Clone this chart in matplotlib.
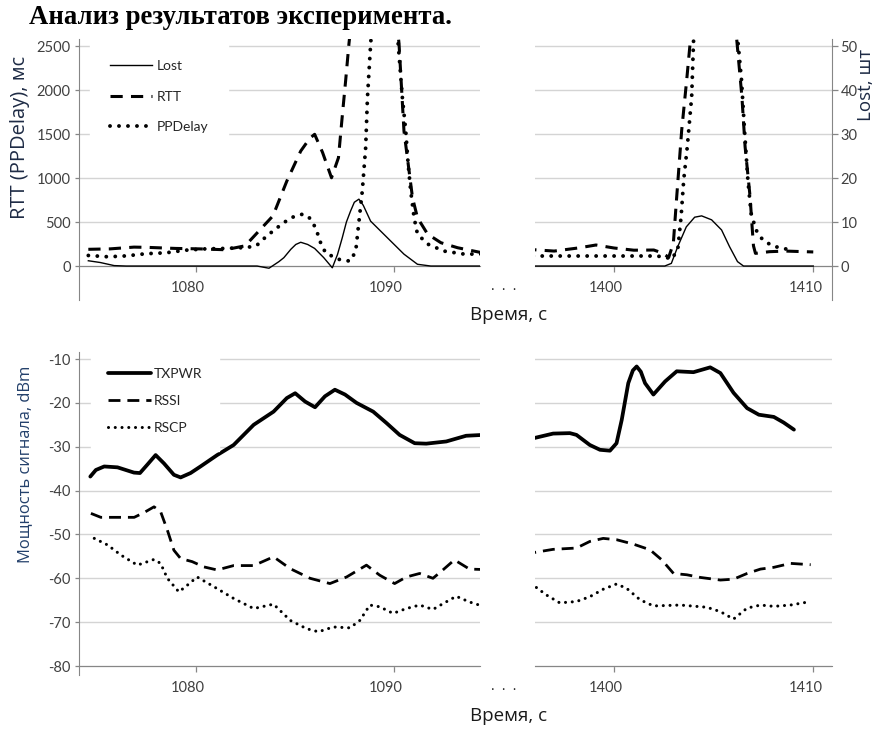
import matplotlib
matplotlib.use("Agg")
import matplotlib.pyplot as plt
from matplotlib.lines import Line2D
from matplotlib.transforms import ScaledTranslation

plt.rcParams['font.family'] = ['Lato', 'Open Sans', 'DejaVu Sans']
plt.rcParams['axes.unicode_minus'] = False

# ---------------- data: top panel, left segment ----------------
lost_t1 = [1074.6, 1075.2, 1075.9, 1076.5, 1083.1, 1083.7, 1084.2, 1084.45, 1084.8, 1085.05, 1085.3,
           1085.65, 1086.0, 1086.46, 1086.89, 1087.15, 1087.39, 1087.6, 1087.81, 1088.0, 1088.23,
           1088.45, 1088.82, 1089.67, 1090.5, 1091.18, 1091.85, 1094.5]
lost_v1 = [1.2, 0.8, 0.1, 0.0, 0.0, -0.5, 1.0, 1.9, 3.8, 4.9, 5.4,
           4.9, 4.0, 1.9, -0.4, 2.6, 6.4, 10.0, 12.5, 14.5, 15.2,
           13.8, 10.2, 6.4, 2.7, 0.4, 0.0, 0.0]

rtt_t1 = [1074.6, 1075.7, 1076.9, 1077.6, 1078.4, 1079.0, 1080.2, 1081.5, 1082.5, 1083.2, 1083.9,
          1084.6, 1085.3, 1085.75, 1086.0, 1086.4, 1086.85, 1087.2, 1087.4, 1087.56, 1087.73, 1089.0,
          1090.25, 1090.5, 1090.93, 1091.18, 1091.69, 1092.36, 1093.2, 1094.5]
rtt_v1 = [190, 195, 215, 212, 205, 200, 195, 185, 230, 400, 570,
          966, 1307, 1450, 1497, 1290, 1003, 1231, 1724, 2102, 2530, 5200,
          2530, 1534, 776, 549, 363, 265, 208, 148]

ppd_t1 = [1074.6, 1075.6, 1076.5, 1077.5, 1078.5, 1079.5, 1080.5, 1081.5, 1082.5, 1083.05, 1083.4,
          1083.8, 1084.25, 1084.8, 1085.4, 1085.7, 1086.05, 1086.3, 1086.55, 1086.9, 1087.15,
          1087.5, 1087.8, 1088.07, 1088.18, 1088.4, 1088.57, 1088.66, 1088.82, 1089.5, 1090.2,
          1090.42, 1090.59, 1090.71, 1090.84, 1091.01, 1091.18, 1091.69, 1092.51, 1093.52, 1094.5]
ppd_v1 = [120, 105, 115, 140, 150, 180, 195, 200, 210, 227, 303,
          379, 460, 549, 590, 560, 435, 265, 150, 110, 80,
          62, 57, 170, 398, 852, 1345, 1912, 2520, 4500, 2550,
          1912, 1534, 1159, 852, 549, 363, 250, 170, 136, 136]

# ---------------- data: top panel, right segment ----------------
lost_t2 = [1395.5, 1402.55, 1402.88, 1403.2, 1403.63, 1404.05, 1404.4, 1404.9, 1405.4, 1405.8,
           1406.2, 1406.5, 1410.0]
lost_v2 = [0.0, 0.0, 0.6, 4.4, 8.9, 11.1, 11.4, 10.5, 8.2, 4.4,
           1.0, 0.0, 0.0]

rtt_t2 = [1395.5, 1396.0, 1397.0, 1398.2, 1399.1, 1400.0, 1401.0, 1402.0, 1402.4, 1402.75, 1402.98,
          1403.15, 1403.4, 1403.65, 1403.85, 1405.0, 1406.15, 1406.42, 1406.58, 1406.83, 1406.92,
          1407.0, 1407.1, 1407.8, 1408.6, 1410.0]
rtt_v2 = [190, 185, 170, 205, 239, 205, 180, 182, 150, 100, 258,
          788, 1545, 2114, 2600, 5000, 2600, 1924, 1356, 788, 485,
          230, 144, 163, 170, 160]

ppd_t2 = [1395.5, 1396.0, 1397.0, 1398.0, 1399.0, 1400.0, 1401.0, 1402.0, 1402.55, 1402.88, 1403.2,
          1403.37, 1403.5, 1403.68, 1403.9, 1404.0, 1405.0, 1406.2, 1406.4, 1406.55, 1406.72,
          1406.88, 1407.13, 1407.47, 1407.97, 1408.47, 1408.9]
ppd_v2 = [114, 114, 114, 114, 114, 114, 114, 114, 106, 76, 182,
          561, 977, 1356, 1924, 2600, 5000, 2600, 2114, 1545, 977,
          599, 409, 295, 227, 201, 182]

# ---------------- data: bottom panel, left segment ----------------
tx_t1 = [1074.7, 1074.98, 1075.4, 1076.07, 1076.9, 1077.2, 1077.57, 1077.99, 1078.41, 1078.91,
         1079.25, 1079.75, 1080.25, 1081.09, 1081.92, 1082.93, 1083.93, 1084.6, 1085.02, 1085.52,
         1086.02, 1086.52, 1087.02, 1087.53, 1088.11, 1088.95, 1089.62, 1090.28, 1091.04, 1091.62,
         1092.63, 1093.63, 1094.5]
tx_v1 = [-36.8, -35.3, -34.5, -34.7, -35.9, -36.0, -34.1, -31.9, -33.8, -36.4,
         -37.0, -36.0, -34.5, -31.9, -29.6, -25.0, -22.0, -18.9, -17.8, -19.7,
         -21.0, -18.5, -17.0, -18.1, -20.0, -22.0, -24.6, -27.3, -29.2, -29.3,
         -28.8, -27.5, -27.3]

rssi_t1 = [1074.73, 1075.23, 1076.07, 1076.91, 1077.41, 1077.91, 1078.24, 1078.58, 1078.91, 1079.25,
           1079.83, 1080.42, 1081.09, 1081.92, 1082.93, 1083.93, 1084.77, 1085.77, 1086.77, 1087.61,
           1088.61, 1089.28, 1090.03, 1090.62, 1091.29, 1091.96, 1092.46, 1093.04, 1093.8, 1094.5]
rssi_v1 = [-45.2, -46.1, -46.1, -46.1, -45.0, -43.7, -44.8, -49.0, -53.6, -55.5,
           -56.2, -57.4, -58.1, -57.1, -57.1, -55.1, -57.8, -60.0, -61.2, -59.7,
           -57.0, -59.3, -61.2, -59.7, -58.9, -60.0, -58.1, -55.8, -57.9, -58.0]

rscp_t1 = [1074.9, 1075.57, 1076.24, 1077.07, 1077.91, 1078.24, 1078.58, 1079.16, 1079.58, 1080.08,
           1080.92, 1081.92, 1082.93, 1083.93, 1084.77, 1085.6, 1086.19, 1086.94, 1087.78, 1088.28,
           1088.78, 1089.28, 1089.95, 1090.62, 1091.29, 1091.96, 1092.46, 1093.13, 1093.8, 1094.5]
rscp_v1 = [-50.9, -52.4, -54.7, -57.0, -55.7, -56.6, -60.0, -63.1, -61.6, -59.7,
           -61.9, -64.6, -66.9, -65.9, -69.6, -71.5, -72.2, -71.1, -71.3, -69.6,
           -66.1, -66.5, -68.0, -66.9, -66.1, -67.1, -65.8, -64.1, -65.4, -66.4]

# ---------------- data: bottom panel, right segment ----------------
tx_t2 = [1395.5, 1396.02, 1396.95, 1397.79, 1398.12, 1398.79, 1399.3, 1399.8, 1400.13, 1400.39,
         1400.72, 1400.95, 1401.14, 1401.35, 1401.56, 1401.98, 1402.57, 1403.15, 1403.99, 1404.83,
         1405.34, 1406.0, 1406.68, 1407.27, 1408.02, 1408.52, 1409.03]
tx_v2 = [-28.5, -28.0, -27.0, -26.9, -27.3, -29.6, -30.7, -30.9, -29.2, -23.9,
         -15.5, -12.6, -11.7, -12.9, -15.5, -18.1, -15.1, -12.8, -13.0, -11.9,
         -13.2, -17.7, -21.2, -22.7, -23.2, -24.5, -26.1]

rssi_t2 = [1395.5, 1396.02, 1396.95, 1398.12, 1398.79, 1399.46, 1400.13, 1400.97, 1401.81, 1402.4,
           1402.99, 1403.66, 1404.33, 1405.34, 1406.0, 1406.68, 1407.35, 1408.02, 1408.86, 1409.87]
rssi_v2 = [-54.4, -54.1, -53.4, -53.1, -51.6, -50.9, -51.2, -52.2, -53.5, -55.8,
           -58.9, -59.2, -59.8, -60.4, -60.2, -58.9, -57.9, -57.5, -56.6, -56.9]

rscp_t2 = [1396.11, 1396.61, 1397.28, 1398.12, 1398.79, 1399.46, 1400.13, 1400.64, 1401.31, 1401.98,
           1403.32, 1404.66, 1405.34, 1406.0, 1406.68, 1407.35, 1408.02, 1408.86, 1409.87]
rscp_v2 = [-62.1, -63.8, -65.6, -65.3, -64.2, -62.5, -61.3, -62.3, -64.9, -66.3,
           -66.1, -66.6, -67.6, -69.3, -66.8, -66.1, -66.4, -66.1, -65.3]

top_yticks = [0, 500, 1000, 1500, 2000, 2500]
lost_yticks = [0, 10, 20, 30, 40, 50]
bot_yticks = [-80, -70, -60, -50, -40, -30, -20, -10]
xticks_left = [1080, 1090]
xticks_right = [1400, 1410]

# ---------------- styles ----------------
W, H = 877, 729
AX = '#868686'
GRID = '#d4d4d4'
TXT = '#404040'
LAB = '#1e2b45'
TICKFS = 10.5

lost_style = dict(color='black', lw=1.0)
rtt_style = dict(color='black', lw=2.2, linestyle=(0, (4.0, 2.7)), dash_capstyle='butt')
ppd_style = dict(color='black', lw=2.8, linestyle=(0, (0.01, 2.3)), dash_capstyle='round')
tx_style = dict(color='black', lw=2.7, solid_capstyle='round', solid_joinstyle='round')
rssi_style = dict(color='black', lw=2.0, linestyle=(0, (4.3, 2.5)), dash_capstyle='butt')
rscp_style = dict(color='black', lw=2.2, linestyle=(0, (0.01, 2.2)), dash_capstyle='round')

fig = plt.figure(figsize=(W / 100, H / 100), dpi=100)


def rect(x0, y0, x1, y1):
    return [x0 / W, 1 - y1 / H, (x1 - x0) / W, (y1 - y0) / H]


def shift_labels(ax):
    off = ScaledTranslation(-8 / 100, 0, fig.dpi_scale_trans)
    for tick in ax.xaxis.get_major_ticks():
        tick.label1.set_transform(tick.label1.get_transform() + off)


def base_axes(r, xlim, ylim, xticks, yticks, base, left_spine):
    ax = fig.add_axes(rect(*r))
    ax.set_xlim(*xlim)
    ax.set_ylim(*ylim)
    ax.set_xticks(xticks)
    ax.set_yticks(yticks)
    ax.patch.set_alpha(0)
    for s in ['top', 'right']:
        ax.spines[s].set_visible(False)
    ax.spines['left'].set_visible(left_spine)
    ax.spines['left'].set_color(AX)
    ax.spines['bottom'].set_color(AX)
    ax.spines['bottom'].set_position(('data', base))
    ax.grid(axis='y', color=GRID, lw=1.0)
    ax.set_axisbelow(True)
    ax.tick_params(axis='x', direction='out', length=4, width=0.9, color=AX,
                   pad=7, labelsize=TICKFS, labelcolor=TXT)
    if left_spine:
        ax.tick_params(axis='y', direction='out', length=3, width=0.9, color=AX,
                       pad=3, labelsize=TICKFS, labelcolor=TXT)
    else:
        ax.tick_params(axis='y', length=0, labelleft=False)
    shift_labels(ax)
    return ax


TOP_Y = (-386, 2580)
BOT_Y = (-82.05, -8.4)
XL = (1074.13, 1094.33)
XR = (1396.04, 1410.94)

# ---------------- top left ----------------
ax1 = base_axes((79, 39, 480, 300), XL, TOP_Y, xticks_left, top_yticks, 0, True)
ax1.plot(rtt_t1, rtt_v1, **rtt_style)
ax1.plot(ppd_t1, ppd_v1, **ppd_style)
ax1t = ax1.twinx()
ax1t.set_ylim(TOP_Y[0] / 50, TOP_Y[1] / 50)
for s in ax1t.spines.values():
    s.set_visible(False)
ax1t.set_yticks([])
ax1t.plot(lost_t1, lost_v1, **lost_style)

handles = [Line2D([], [], **lost_style), Line2D([], [], **rtt_style), Line2D([], [], **ppd_style)]
leg = ax1t.legend(handles, ['Lost', 'RTT', 'PPDelay'], loc='upper left',
                  bbox_to_anchor=(90 / W, 1 - 40 / H), bbox_transform=fig.transFigure,
                  frameon=True, fancybox=False, framealpha=1, edgecolor='white',
                  handlelength=3.0, handletextpad=0.35, labelspacing=1.33,
                  borderpad=1.45, borderaxespad=0, prop=dict(size=10))
for t in leg.get_texts():
    t.set_color('#262626')

# ---------------- top right ----------------
ax2 = base_axes((535, 39, 832, 300), XR, TOP_Y, xticks_right, top_yticks, 0, False)
ax2.plot(rtt_t2, rtt_v2, **rtt_style)
ax2.plot(ppd_t2, ppd_v2, **ppd_style)
ax2t = ax2.twinx()
ax2t.set_ylim(TOP_Y[0] / 50, TOP_Y[1] / 50)
ax2t.set_yticks(lost_yticks)
for s in ['top', 'left', 'bottom']:
    ax2t.spines[s].set_visible(False)
ax2t.spines['right'].set_color(AX)
ax2t.tick_params(axis='y', direction='out', length=4, width=0.9, color=AX,
                 pad=2, labelsize=TICKFS, labelcolor=TXT)
ax2t.plot(lost_t2, lost_v2, **lost_style)

# ---------------- bottom left ----------------
ax3 = base_axes((79, 352, 480, 675), XL, BOT_Y, xticks_left, bot_yticks, -80, True)
ax3.plot(tx_t1, tx_v1, **tx_style)
ax3.plot(rssi_t1, rssi_v1, **rssi_style)
ax3.plot(rscp_t1, rscp_v1, **rscp_style)
handles_b = [Line2D([], [], **tx_style), Line2D([], [], **rssi_style), Line2D([], [], **rscp_style)]
leg2 = ax3.legend(handles_b, ['TXPWR', 'RSSI', 'RSCP'], loc='upper left',
                  bbox_to_anchor=(91 / W, 1 - 351 / H), bbox_transform=fig.transFigure,
                  frameon=True, fancybox=False, framealpha=1, edgecolor='white',
                  handlelength=3.1, handletextpad=0.2, labelspacing=1.1,
                  borderpad=1.2, borderaxespad=0, prop=dict(size=10))
for t in leg2.get_texts():
    t.set_color('#262626')

# ---------------- bottom right ----------------
ax4 = base_axes((535, 352, 832, 675), XR, BOT_Y, xticks_right, bot_yticks, -80, False)
ax4.plot(tx_t2, tx_v2, **tx_style)
ax4.plot(rssi_t2, rssi_v2, **rssi_style)
ax4.plot(rscp_t2, rscp_v2, **rscp_style)

# ---------------- texts ----------------
def fx(px):
    return px / W


def fy(py):
    return 1 - py / H


fig.text(fx(29), fy(18), 'Анализ результатов эксперимента.', family='Liberation Serif',
         weight='bold', size=19.3, ha='left', va='center', color='black')
fig.text(fx(20), fy(137), 'RTT (PPDelay), мс', family='Open Sans', size=14.5,
         rotation=90, ha='center', va='center', color=LAB)
fig.text(fx(866), fy(85), 'Lost, шт', family='Open Sans', size=13.5,
         rotation=90, ha='center', va='center', color=LAB)
fig.text(fx(25), fy(464), 'Мощность сигнала, dBm', family='Open Sans', size=11.9,
         rotation=90, ha='center', va='center', color='#23406b')
for yy in (315, 716):
    fig.text(fx(509), fy(yy), 'Время, с', family='Open Sans', size=13.5,
             ha='center', va='center', color='#1a1a1a')
for yy in (286, 686):
    fig.text(fx(504), fy(yy), '.  .  .', family='Open Sans', size=10,
             ha='center', va='center', color='#1a1a1a')

fig.savefig('out.png', dpi=100)
